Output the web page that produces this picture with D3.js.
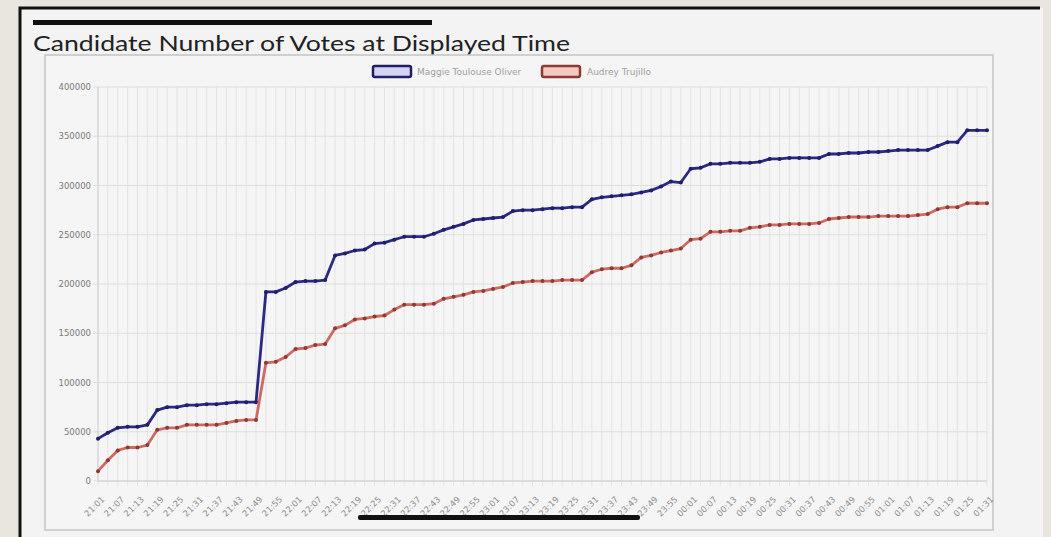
<!DOCTYPE html>
<html><head><meta charset="utf-8">
<script src="https://cdn.jsdelivr.net/npm/d3@7"></script>
<style>html,body{margin:0;padding:0;background:#e9e6e0;overflow:hidden}svg{display:block}</style>
</head><body><svg id="c" width="1051" height="537"></svg>
<script>
const times = ["21:01","21:04","21:07","21:10","21:13","21:16","21:19","21:22","21:25","21:28",
"21:31","21:34","21:37","21:40","21:43","21:46","21:49","21:52","21:55","21:58",
"22:01","22:04","22:07","22:10","22:13","22:16","22:19","22:22","22:25","22:28",
"22:31","22:34","22:37","22:40","22:43","22:46","22:49","22:52","22:55","22:58",
"23:01","23:04","23:07","23:10","23:13","23:16","23:19","23:22","23:25","23:28",
"23:31","23:34","23:37","23:40","23:43","23:46","23:49","23:52","23:55","23:58",
"00:01","00:04","00:07","00:10","00:13","00:16","00:19","00:22","00:25","00:28",
"00:31","00:34","00:37","00:40","00:43","00:46","00:49","00:52","00:55","00:58",
"01:01","01:04","01:07","01:10","01:13","01:16","01:19","01:22","01:25","01:28","01:31"];
const oliver = [43000,49000,54000,55000,55000,57000,72000,75000,75000,77000,
77000,78000,78000,79000,80000,80000,80000,192000,192000,196000,
202000,203000,203000,204000,229000,231000,234000,235000,241000,242000,
245000,248000,248000,248000,251000,255000,258000,261000,265000,266000,
267000,268000,274000,275000,275000,276000,277000,277000,278000,278000,
286000,288000,289000,290000,291000,293000,295000,299000,304000,303000,
317000,318000,322000,322000,323000,323000,323000,324000,327000,327000,
328000,328000,328000,328000,332000,332000,333000,333000,334000,334000,
335000,336000,336000,336000,336000,340000,344000,344000,356000,356000,356000];
const trujillo = [10000,21000,31000,34000,34000,36500,52000,54000,54000,57000,
57000,57000,57000,59000,61000,62000,62000,120000,121000,126000,
134000,135000,138000,139000,155000,158000,164000,165000,167000,168000,
174000,179000,179000,179000,180000,185000,187000,189000,192000,193000,
195000,197000,201000,202000,203000,203000,203000,204000,204000,204000,
212000,215000,216000,216000,219000,227000,229000,232000,234000,236000,
245000,246000,253000,253000,254000,254000,257000,258000,260000,260000,
261000,261000,261000,262000,266000,267000,268000,268000,268000,269000,
269000,269000,269000,270000,271000,276000,278000,278000,282000,282000,282000];
const yTicks = [0,50000,100000,150000,200000,250000,300000,350000,400000];
const seriesNames = ["Maggie Toulouse Oliver","Audrey Trujillo"];

const svg = d3.select("#c");
// card
svg.append("rect").attr("x",20).attr("y",8).attr("width",1023).attr("height",540).attr("fill","#f3f3f3");
svg.append("path").attr("d","M20,540 L20,8 L1040,8").attr("fill","none").attr("stroke","#111").attr("stroke-width",3);
// redaction bar top
svg.append("rect").attr("x",33).attr("y",20).attr("width",399).attr("height",5).attr("fill","#111");
// title
svg.append("text").attr("x",33).attr("y",51).attr("font-family","Lato, 'Open Sans', sans-serif")
  .attr("font-size",22).attr("fill","#222").attr("textLength",537).attr("lengthAdjust","spacingAndGlyphs")
  .text("Candidate Number of Votes at Displayed Time");
// chart box
svg.append("rect").attr("x",45).attr("y",55).attr("width",948).attr("height",475)
  .attr("fill","#f5f5f5").attr("stroke","#c4c4c4").attr("stroke-width",1.5);

const L=98, R=987, T=87, B=481;
const x = d3.scalePoint().domain(d3.range(times.length)).range([L,R]);
const y = d3.scaleLinear().domain([0,400000]).range([B,T]);

const g = svg.append("g");
// grid
g.selectAll(".vg").data(d3.range(times.length)).join("line")
  .attr("x1",d=>x(d)).attr("x2",d=>x(d)).attr("y1",T).attr("y2",B+5)
  .attr("stroke","#e3e3e3").attr("stroke-width",1);
g.selectAll(".hg").data(yTicks).join("line")
  .attr("x1",L-5).attr("x2",R).attr("y1",d=>y(d)).attr("y2",d=>y(d))
  .attr("stroke","#dedede").attr("stroke-width",1);
g.append("line").attr("x1",L).attr("x2",R).attr("y1",B).attr("y2",B).attr("stroke","#cfcfcf");
g.append("line").attr("x1",L).attr("x2",L).attr("y1",T).attr("y2",B).attr("stroke","#cfcfcf");

// y axis
const ya = d3.axisLeft(y).tickValues(yTicks).tickSize(0).tickPadding(7).tickFormat(d3.format("d"));
svg.append("g").attr("transform",`translate(${L},0)`).call(ya)
  .call(s=>s.select(".domain").remove())
  .selectAll("text").attr("font-family","'DejaVu Sans', sans-serif").attr("font-size",8.5).attr("fill","#7a7a7a");

// x axis
const xa = d3.axisBottom(x).tickValues(d3.range(0,times.length,2)).tickSize(0).tickFormat(i=>times[i]);
svg.append("g").attr("transform",`translate(0,${B+8})`).call(xa)
  .call(s=>s.select(".domain").remove())
  .selectAll("text").attr("font-family","'DejaVu Sans', sans-serif").attr("font-size",8.5).attr("fill","#8e8e8e")
  .attr("text-anchor","end").attr("dy","0.35em").attr("dx","-0.1em")
  .attr("transform","translate(3,6) rotate(-45)");

// lines
const colors = [{line:"#2a2a86",pt:"#1f1f66",fill:"#d4d4f2"},{line:"#cf6a60",pt:"#8e3a34",fill:"#f4c9c2"}];
[oliver,trujillo].forEach((vals,k)=>{
  const line = d3.line().x((d,i)=>x(i)).y(d=>y(d));
  svg.append("path").datum(vals).attr("d",line).attr("fill","none")
    .attr("stroke",colors[k].line).attr("stroke-width",2.8).attr("stroke-linejoin","round");
  svg.append("g").selectAll("circle").data(vals).join("circle")
    .attr("cx",(d,i)=>x(i)).attr("cy",d=>y(d)).attr("r",2).attr("fill",colors[k].pt);
});

// legend
const lg = [{x:373,tx:417},{x:542,tx:587}];
seriesNames.forEach((n,k)=>{
  svg.append("rect").attr("x",lg[k].x).attr("y",66).attr("width",38).attr("height",11).attr("rx",2)
    .attr("fill",colors[k].fill).attr("stroke",colors[k].pt).attr("stroke-width",2.5);
  svg.append("text").attr("x",lg[k].tx).attr("y",75).attr("font-family","'DejaVu Sans', sans-serif")
    .attr("font-size",9).attr("fill","#a0a0a0").text(n);
});

// redaction bar bottom
svg.append("rect").attr("x",358).attr("y",515).attr("width",282).attr("height",5).attr("rx",2).attr("fill","#111");
</script></body></html>
